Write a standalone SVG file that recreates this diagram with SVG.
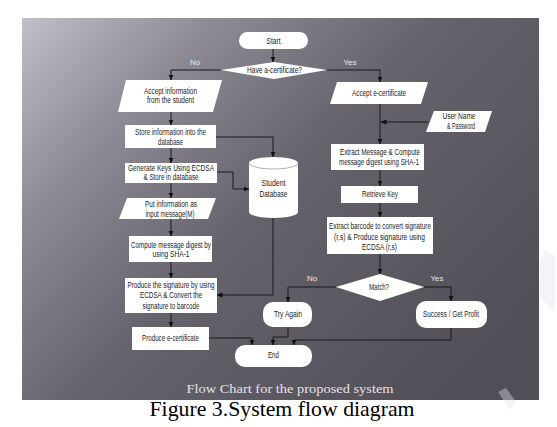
<svg xmlns="http://www.w3.org/2000/svg" width="557" height="427" viewBox="0 0 557 427">
<defs>
<linearGradient id="bg" x1="0" y1="0" x2="1" y2="0.7">
<stop offset="0" stop-color="#c2bec8"/>
<stop offset="0.25" stop-color="#8e8a96"/>
<stop offset="0.55" stop-color="#66626c"/>
<stop offset="1" stop-color="#534f58"/>
</linearGradient>
<marker id="ah" markerWidth="6" markerHeight="6" refX="5.5" refY="3" orient="auto" markerUnits="userSpaceOnUse">
<path d="M0,0.5 L6,3 L0,5.5 z" fill="#111"/>
</marker>
<style>
.n{fill:#ffffff;stroke:none}
.t{font-family:"Liberation Sans",Arial,sans-serif;font-size:8.5px;fill:#222;text-anchor:middle}
.l{font-family:"Liberation Sans",Arial,sans-serif;font-size:8px;fill:#e8e8e8;text-anchor:middle}
.c{fill:none;stroke:#1a1a1a;stroke-width:1;marker-end:url(#ah)}
</style>
</defs>
<rect x="0" y="0" width="557" height="427" fill="#ffffff"/>
<rect x="22" y="18" width="517" height="382" fill="url(#bg)"/>
<polygon points="545,250 555,256 555,312 548,306 540,296 540,262" fill="#ece6f2" opacity="0.5"/>
<polygon points="498,392 506,388 516,402 510,410" fill="#e6e2ee" opacity="0.4"/>

<g id="connectors">
<path class="c" d="M273,49 V62"/>
<path class="c" d="M221,70 H171 V80"/>
<path class="c" d="M327,70 H380 V82"/>
<path class="c" d="M171,112 V125"/>
<path class="c" d="M216,137 H273 V157"/>
<path class="c" d="M171,148 V163"/>
<path class="c" d="M217,172 H233 V189 H249"/>
<path class="c" d="M171,183 V198"/>
<path class="c" d="M171,219 V236"/>
<path class="c" d="M171,262 V278"/>
<path class="c" d="M273,214 V295 H217"/>
<path class="c" d="M171,313 V327"/>
<path class="c" d="M209,338 H252 V345"/>
<path class="c" d="M288,327 V337 H273 V345"/>
<path class="c" d="M451,328 V340 H294 V345"/>
<path class="c" d="M380,104 V144"/>
<path class="c" d="M428,122 H381"/>
<path class="c" d="M380,170 V186"/>
<path class="c" d="M380,203 V217"/>
<path class="c" d="M380,254 V274"/>
<path class="c" d="M336,287 H288 V302"/>
<path class="c" d="M424,287 H451 V301"/>
<text class="l" x="195" y="65">No</text>
<text class="l" x="350" y="65">Yes</text>
<text class="l" x="312" y="281">No</text>
<text class="l" x="437" y="281">Yes</text>
</g>

<g id="start">
<rect class="n" x="239" y="32" width="69" height="17" rx="8.5"/>
<text class="t" x="273.5" y="44" textLength="14" lengthAdjust="spacingAndGlyphs">Start</text>
</g>
<g id="have-certificate">
<polygon class="n" points="274,62 327,70 274,79 221,70"/>
<text class="t" x="274.5" y="73" textLength="55" lengthAdjust="spacingAndGlyphs">Have a-certificate?</text>
</g>
<g id="accept-info">
<polygon class="n" points="126,80 222,80 213,112 118,112"/>
<text class="t" x="170.5" y="94" textLength="53" lengthAdjust="spacingAndGlyphs">Accept information</text>
<text class="t" x="170.5" y="103" textLength="47" lengthAdjust="spacingAndGlyphs">from the student</text>
</g>
<g id="store-info">
<rect class="n" x="125" y="125" width="91" height="23"/>
<text class="t" x="170.5" y="135" textLength="71" lengthAdjust="spacingAndGlyphs">Store information into the</text>
<text class="t" x="170.5" y="145" textLength="25" lengthAdjust="spacingAndGlyphs">database</text>
</g>
<g id="generate-keys">
<rect class="n" x="125" y="163" width="92" height="20"/>
<text class="t" x="171" y="171" textLength="86" lengthAdjust="spacingAndGlyphs">Generate Keys  Using ECDSA</text>
<text class="t" x="171" y="180" textLength="55" lengthAdjust="spacingAndGlyphs">&amp; Store in database</text>
</g>
<g id="student-database">
<path class="n" d="M249,163 A24.5,6 0 0 1 298,163 V212 A24.5,6 0 0 1 249,212 Z" stroke="#9a9a9a" stroke-width="0.8"/>
<path d="M249,163 A24.5,6 0 0 0 298,163" fill="none" stroke="#9a9a9a" stroke-width="0.8"/>
<text class="t" x="273.5" y="186" textLength="24" lengthAdjust="spacingAndGlyphs">Student</text>
<text class="t" x="273.5" y="197" textLength="28" lengthAdjust="spacingAndGlyphs">Database</text>
</g>
<g id="put-info">
<polygon class="n" points="127,198 216,198 208,219 119,219"/>
<text class="t" x="171" y="207" textLength="52" lengthAdjust="spacingAndGlyphs">Put information  as</text>
<text class="t" x="170" y="217" textLength="49" lengthAdjust="spacingAndGlyphs">input message(M)</text>
</g>
<g id="compute-digest">
<rect class="n" x="129" y="236" width="83" height="26"/>
<text class="t" x="171" y="248" textLength="80" lengthAdjust="spacingAndGlyphs">Compute message digest by</text>
<text class="t" x="171" y="257" textLength="37" lengthAdjust="spacingAndGlyphs">using SHA-1</text>
</g>
<g id="produce-signature">
<rect class="n" x="125" y="278" width="92" height="35"/>
<text class="t" x="171" y="288" textLength="87" lengthAdjust="spacingAndGlyphs">Produce the signature by using</text>
<text class="t" x="171" y="298" textLength="62" lengthAdjust="spacingAndGlyphs">ECDSA &amp; Convert the</text>
<text class="t" x="171" y="309" textLength="57" lengthAdjust="spacingAndGlyphs">signature to barcode</text>
</g>
<g id="produce-ecert">
<rect class="n" x="132" y="327" width="77" height="23"/>
<text class="t" x="170.5" y="341" textLength="57" lengthAdjust="spacingAndGlyphs">Produce e-certificate</text>
</g>
<g id="accept-ecert">
<polygon class="n" points="337,82 428,82 421,104 330,104"/>
<text class="t" x="379" y="96" textLength="54" lengthAdjust="spacingAndGlyphs">Accept e-certificate</text>
</g>
<g id="user-name">
<polygon class="n" points="434,111 492,111 485,132 426,132"/>
<text class="t" x="459" y="119" textLength="33" lengthAdjust="spacingAndGlyphs">User Name</text>
<text class="t" x="461" y="129" textLength="28" lengthAdjust="spacingAndGlyphs">&amp; Password</text>
</g>
<g id="extract-message">
<rect class="n" x="331" y="144" width="93" height="26"/>
<text class="t" x="380" y="155" textLength="80" lengthAdjust="spacingAndGlyphs">Extract Message &amp; Compute</text>
<text class="t" x="379" y="165" textLength="80" lengthAdjust="spacingAndGlyphs">message digest using SHA-1</text>
</g>
<g id="retrieve-key">
<rect class="n" x="341" y="186" width="77" height="17"/>
<text class="t" x="380" y="197" textLength="36" lengthAdjust="spacingAndGlyphs">Retrieve Key</text>
</g>
<g id="extract-barcode">
<rect class="n" x="327" y="217" width="106" height="37"/>
<text class="t" x="380" y="229" textLength="102" lengthAdjust="spacingAndGlyphs">Extract barcode to convert signature</text>
<text class="t" x="379.5" y="240" textLength="91" lengthAdjust="spacingAndGlyphs">(r,s) &amp; Produce signature using</text>
<text class="t" x="379.5" y="250" textLength="35" lengthAdjust="spacingAndGlyphs">ECDSA (r,s)</text>
</g>
<g id="match">
<polygon class="n" points="380,274 424,287 380,301 336,287"/>
<text class="t" x="379" y="290" textLength="20" lengthAdjust="spacingAndGlyphs">Match?</text>
</g>
<g id="try-again">
<rect class="n" x="263" y="302" width="49" height="25" rx="10"/>
<text class="t" x="288" y="317" textLength="28" lengthAdjust="spacingAndGlyphs">Try Again</text>
</g>
<g id="success">
<rect class="n" x="416" y="301" width="71" height="27" rx="10"/>
<text class="t" x="451" y="317" textLength="56" lengthAdjust="spacingAndGlyphs">Success / Get Profit</text>
</g>
<g id="end">
<rect class="n" x="235" y="345" width="77" height="22" rx="10"/>
<text class="t" x="273.5" y="358" textLength="11" lengthAdjust="spacingAndGlyphs">End</text>
</g>

<text x="290" y="393" font-family="Liberation Serif, serif" font-size="13.5" fill="#e6e2ea" text-anchor="middle" textLength="207" lengthAdjust="spacingAndGlyphs">Flow Chart  for the proposed system</text>
<text x="282" y="416" font-family="Liberation Serif, serif" font-size="21" fill="#000" text-anchor="middle" textLength="265" lengthAdjust="spacingAndGlyphs">Figure 3.System flow diagram</text>
</svg>
